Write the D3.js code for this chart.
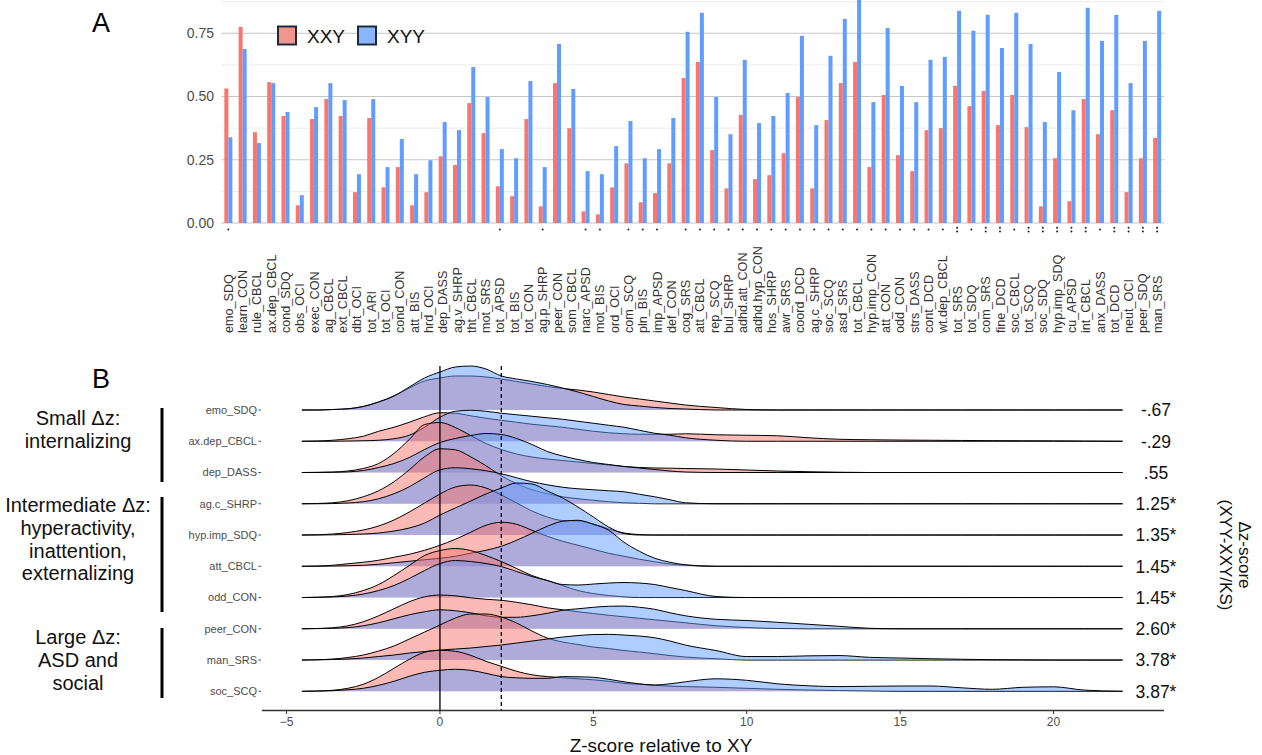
<!DOCTYPE html>
<html><head><meta charset="utf-8">
<script src="https://cdn.jsdelivr.net/npm/d3@7"></script>
<style>body{margin:0;background:#fff;} svg{display:block;font-family:"Liberation Sans",Arial,Helvetica,sans-serif;}</style>
</head><body><svg id="chart" width="1262" height="755"></svg>
<script>
// ---------- Panel A data ----------
const categories = ["emo_SDQ","learn_CON","rule_CBCL","ax.dep_CBCL","cond_SDQ","obs_OCI","exec_CON","ag_CBCL","ext_CBCL","dbt_OCI","tot_ARI","tot_OCI","cond_CON","att_BIS","hrd_OCI","dep_DASS","ag.v_SHRP","tht_CBCL","mot_SRS","tot_APSD","tot_BIS","tot_CON","ag.p_SHRP","peer_CON","som_CBCL","narc_APSD","mot_BIS","ord_OCI","com_SCQ","pln_BIS","imp_APSD","def_CON","cog_SRS","att_CBCL","rep_SCQ","bul_SHRP","adhd.att_CON","adhd.hyp_CON","hos_SHRP","awr_SRS","coord_DCD","ag.c_SHRP","soc_SCQ","asd_SRS","tot_CBCL","hyp.imp_CON","att_CON","odd_CON","strs_DASS","cont_DCD","wt.dep_CBCL","tot_SRS","tot_SDQ","com_SRS","fine_DCD","soc_CBCL","tot_SCQ","soc_SDQ","hyp.imp_SDQ","cu_APSD","int_CBCL","anx_DASS","tot_DCD","neut_OCI","peer_SDQ","man_SRS"];
const xxyValues = [0.532,0.775,0.359,0.557,0.423,0.070,0.411,0.490,0.423,0.122,0.415,0.141,0.221,0.070,0.122,0.264,0.229,0.474,0.355,0.145,0.106,0.411,0.066,0.553,0.375,0.046,0.034,0.141,0.236,0.082,0.118,0.236,0.573,0.637,0.288,0.137,0.427,0.173,0.189,0.276,0.498,0.137,0.407,0.553,0.637,0.221,0.506,0.268,0.205,0.367,0.375,0.542,0.462,0.522,0.387,0.506,0.379,0.066,0.256,0.086,0.490,0.351,0.446,0.122,0.256,0.336];
const xyyValues = [0.339,0.688,0.316,0.553,0.439,0.110,0.458,0.553,0.486,0.193,0.490,0.221,0.332,0.193,0.248,0.399,0.367,0.617,0.498,0.292,0.256,0.561,0.221,0.708,0.530,0.205,0.193,0.304,0.403,0.256,0.292,0.415,0.756,0.831,0.498,0.351,0.645,0.395,0.423,0.514,0.740,0.387,0.661,0.807,0.900,0.478,0.771,0.542,0.478,0.645,0.657,0.839,0.760,0.823,0.692,0.831,0.708,0.399,0.597,0.446,0.851,0.720,0.823,0.553,0.720,0.839];
const sigDots = [1,0,0,0,0,0,0,0,0,0,0,0,0,0,0,0,0,0,0,1,0,0,1,0,0,1,1,0,1,1,1,0,1,1,1,1,1,1,1,1,1,1,1,1,1,1,1,1,1,1,1,2,1,2,2,1,2,2,2,2,2,1,2,2,2,2];
const yTicksA = [0,0.25,0.5,0.75];
const yMinorA = [0.125,0.375,0.625,0.875];
const groups = ["XXY","XYY"];

// ---------- Panel B data ----------
const ridgeMeasures = ["emo_SDQ","ax.dep_CBCL","dep_DASS","ag.c_SHRP","hyp.imp_SDQ","att_CBCL","odd_CON","peer_CON","man_SRS","soc_SCQ"];
const deltaLabels = ["-.67","-.29",".55","1.25*","1.35*","1.45*","1.45*","2.60*","3.78*","3.87*"];
const zGrid = [-4.5,-4,-3.5,-3,-2.5,-2,-1.5,-1,-0.5,0,0.5,1,1.5,2,2.5,3,3.5,4,4.5,5,5.5,6,6.5,7,7.5,8,9,10,11,12,13,14,15,16,17,18,19,20,21,22.25];
const xxyDensities = [
 [0,0,.005,.012,.035,.08,.14,.22,.29,.32,.34,.34,.33,.31,.285,.26,.235,.215,.2,.18,.155,.13,.11,.09,.07,.05,.025,.005,0,0,0,0,0,0,0,0,0,0,0,0],
 [0,.003,.01,.025,.05,.10,.14,.19,.245,.285,.28,.255,.23,.21,.19,.17,.155,.14,.12,.10,.085,.075,.07,.07,.07,.075,.065,.06,.055,.035,.02,.015,.012,.01,.008,.006,.005,.004,.002,0],
 [0,.002,.005,.015,.04,.09,.19,.33,.48,.50,.45,.37,.29,.23,.185,.155,.135,.12,.105,.09,.075,.06,.05,.045,.043,.04,.035,.025,.015,.008,.003,0,0,0,0,0,0,0,0,0],
 [0,.003,.01,.03,.07,.13,.22,.34,.47,.55,.54,.47,.38,.28,.20,.14,.10,.07,.05,.035,.02,.01,.005,0,0,0,0,0,0,0,0,0,0,0,0,0,0,0,0,0],
 [0,.003,.01,.025,.05,.09,.15,.23,.32,.41,.48,.50,.47,.40,.32,.24,.18,.145,.14,.11,.06,.02,.005,0,0,0,0,0,0,0,0,0,0,0,0,0,0,0,0,0],
 [0,.003,.01,.025,.04,.06,.09,.12,.16,.21,.27,.34,.41,.44,.42,.36,.30,.25,.21,.17,.13,.10,.07,.045,.023,.01,0,0,0,0,0,0,0,0,0,0,0,0,0,0],
 [0,.003,.01,.03,.07,.13,.22,.32,.42,.47,.49,.47,.42,.36,.29,.22,.17,.12,.07,.04,.02,.007,0,0,0,0,0,0,0,0,0,0,0,0,0,0,0,0,0,0],
 [0,.003,.01,.03,.07,.13,.20,.27,.32,.337,.33,.31,.295,.285,.265,.24,.21,.19,.17,.153,.135,.12,.105,.09,.075,.06,.03,.013,.003,0,0,0,0,0,0,0,0,0,0,0],
 [0,.003,.01,.025,.05,.09,.14,.21,.28,.35,.42,.46,.46,.43,.37,.29,.22,.18,.155,.13,.115,.095,.08,.063,.045,.03,.013,0,0,0,0,0,0,0,0,0,0,0,0,0],
 [0,.003,.01,.03,.07,.14,.23,.32,.39,.41,.40,.36,.30,.25,.20,.165,.147,.135,.125,.115,.10,.08,.07,.06,.052,.047,.04,.03,.02,.013,.008,.004,0,0,0,0,0,0,0,0]
];
const xyyDensities = [
 [0,0,.005,.012,.035,.08,.14,.23,.32,.38,.43,.44,.41,.34,.31,.285,.255,.22,.18,.135,.09,.055,.04,.025,.015,.01,0,0,0,0,0,0,0,0,0,0,0,0,0,0],
 [0,0,0,.002,.005,.01,.025,.06,.14,.24,.30,.31,.30,.28,.265,.25,.235,.22,.20,.18,.16,.14,.11,.08,.06,.035,.01,0,0,0,0,0,0,0,0,0,0,0,0,0],
 [0,0,.002,.006,.02,.05,.09,.15,.23,.30,.34,.37,.39,.38,.34,.28,.21,.165,.13,.10,.08,.06,.045,.03,.015,.005,0,0,0,0,0,0,0,0,0,0,0,0,0,0],
 [0,0,.002,.008,.02,.05,.10,.17,.26,.34,.36,.35,.33,.30,.26,.22,.19,.165,.15,.14,.13,.12,.095,.07,.04,.01,0,0,0,0,0,0,0,0,0,0,0,0,0,0],
 [0,0,.002,.005,.01,.02,.04,.07,.12,.20,.27,.34,.41,.47,.52,.51,.44,.37,.28,.18,.08,.015,0,0,0,0,0,0,0,0,0,0,0,0,0,0,0,0,0,0],
 [0,0,.002,.005,.01,.02,.035,.05,.065,.08,.10,.13,.16,.20,.26,.33,.40,.45,.46,.42,.36,.24,.15,.08,.04,.015,0,0,0,0,0,0,0,0,0,0,0,0,0,0],
 [0,.002,.006,.015,.035,.07,.12,.19,.27,.34,.37,.36,.34,.31,.26,.21,.17,.13,.125,.135,.145,.15,.145,.13,.10,.07,.01,0,0,0,0,0,0,0,0,0,0,0,0,0],
 [0,.002,.005,.012,.03,.06,.10,.14,.17,.19,.18,.16,.13,.115,.115,.13,.155,.185,.20,.215,.225,.227,.215,.195,.16,.13,.095,.083,.065,.045,.025,.005,0,0,0,0,0,0,0,0],
 [0,.002,.005,.01,.02,.035,.05,.07,.085,.10,.11,.12,.135,.15,.17,.19,.21,.23,.245,.255,.257,.25,.24,.223,.19,.15,.095,.035,.035,.042,.045,.027,.02,.013,.008,.004,.002,0,0,0],
 [0,.002,.006,.015,.03,.06,.10,.15,.19,.21,.22,.21,.18,.147,.135,.13,.13,.147,.145,.14,.12,.095,.075,.063,.075,.095,.125,.11,.075,.055,.047,.05,.053,.053,.035,.02,.04,.045,.012,0]
];
const xTicksB = [-5,0,5,10,15,20];
const groupLabels = [
  ["Small \u0394z:","internalizing"],
  ["Intermediate \u0394z:","hyperactivity,","inattention,","externalizing"],
  ["Large \u0394z:","ASD and","social"]
];

const COL = {XXY:"#F8766D", XYY:"#619CFF"};
const svg = d3.select("#chart");

// ================= PANEL A =================
const xA = d3.scaleBand().domain(categories).range([221.2,1164.3]).paddingInner(0.44).paddingOuter(0.22);
const xSub = d3.scaleBand().domain(groups).range([0,xA.bandwidth()]);
const yA = d3.scaleLinear().domain([0,0.75]).range([223,33.3]);
const gA = svg.append("g");
gA.selectAll("line.minor").data(yMinorA).join("line")
  .attr("x1",221.2).attr("x2",1164.3).attr("y1",d=>yA(d)).attr("y2",d=>yA(d))
  .attr("stroke","#ebebeb").attr("stroke-width",1);
gA.selectAll("line.major").data(yTicksA).join("line")
  .attr("x1",221.2).attr("x2",1164.3).attr("y1",d=>yA(d)).attr("y2",d=>yA(d))
  .attr("stroke","#c6c6c6").attr("stroke-width",1.1);
gA.selectAll("text.ytick").data(yTicksA).join("text")
  .attr("x",214).attr("y",d=>yA(d)).attr("dy","0.35em").attr("text-anchor","end")
  .attr("font-size",14).attr("fill","#4d4d4d").text(d=>d3.format(".2f")(d));

const barData = [];
categories.forEach((c,i)=>{ barData.push({c,g:"XXY",v:xxyValues[i]}); barData.push({c,g:"XYY",v:xyyValues[i]}); });
gA.selectAll("rect.bar").data(barData).join("rect")
  .attr("x",d=>xA(d.c)+xSub(d.g)).attr("width",xSub.bandwidth())
  .attr("y",d=>yA(d.v)).attr("height",d=>yA(0)-yA(d.v)).attr("fill",d=>COL[d.g]);

const dotData = [];
categories.forEach((c,i)=>{ const n=sigDots[i]; if(n===1) dotData.push({c,y:229.5}); if(n===2){dotData.push({c,y:227.8});dotData.push({c,y:231.4});} });
gA.selectAll("circle.sig").data(dotData).join("circle")
  .attr("cx",d=>xA(d.c)+xA.bandwidth()/2).attr("cy",d=>d.y).attr("r",1).attr("fill","#222");

gA.selectAll("text.xlab").data(categories).join("text")
  .attr("transform",d=>`translate(${xA(d)+xA.bandwidth()/2},333) rotate(-90)`)
  .attr("dy","0.36em").attr("text-anchor","start").attr("font-size",12.6).attr("fill","#333").text(d=>d);

const leg = gA.append("g");
groups.forEach((g,i)=>{
  const x0 = [277,357][i];
  leg.append("rect").attr("x",x0+1).attr("y",26.5).attr("width",18).attr("height",18)
    .attr("fill",g==="XXY"?"#F0968D":"#8AB5FF").attr("stroke","#1d2b38").attr("stroke-width",2);
  leg.append("text").attr("x",x0+30).attr("y",36).attr("dy","0.36em").attr("font-size",19).attr("fill","#111").text(g);
});
svg.append("text").attr("x",101).attr("y",22).attr("dy","0.36em").attr("text-anchor","middle").attr("font-size",27).text("A");
svg.append("text").attr("x",101).attr("y",378).attr("dy","0.36em").attr("text-anchor","middle").attr("font-size",27).text("B");

// ================= PANEL B =================
const xB = d3.scaleLinear().domain([-5.8,23.6]).range([262,1164]);
const yRow = d3.scalePoint().domain(ridgeMeasures).range([410,691.3]);
const hB = d3.scaleLinear().domain([0,1]).range([0,100]);
const gB = svg.append("g");
ridgeMeasures.forEach((m,ri)=>{
  const base = yRow(m);
  [["XXY",xxyDensities[ri]],["XYY",xyyDensities[ri]]].forEach(([g,arr])=>{
    const pts = zGrid.map((z,k)=>({z,h:arr[k]}));
    const area = d3.area().x(d=>xB(d.z)).y0(base).y1(d=>base-hB(d.h)).curve(d3.curveMonotoneX);
    const line = d3.line().x(d=>xB(d.z)).y(d=>base-hB(d.h)).curve(d3.curveMonotoneX);
    gB.append("path").datum(pts).attr("d",area).attr("fill",COL[g]).attr("fill-opacity",0.5);
    gB.append("path").datum(pts).attr("d",line).attr("fill","none").attr("stroke","#000").attr("stroke-width",1);
  });
});
gB.append("line").attr("x1",xB(0)).attr("x2",xB(0)).attr("y1",366).attr("y2",710).attr("stroke","#000").attr("stroke-width",1.3);
gB.append("line").attr("x1",xB(2)).attr("x2",xB(2)).attr("y1",366).attr("y2",710).attr("stroke","#000").attr("stroke-width",1.3).attr("stroke-dasharray","4,3");
gB.selectAll("text.rlab").data(ridgeMeasures).join("text")
  .attr("x",257).attr("y",d=>yRow(d)).attr("dy","0.35em").attr("text-anchor","end").attr("font-size",11).attr("fill","#4d4d4d").text(d=>d);
gB.selectAll("line.rtick").data(ridgeMeasures).join("line")
  .attr("x1",258.5).attr("x2",261).attr("y1",d=>yRow(d)).attr("y2",d=>yRow(d)).attr("stroke","#4d4d4d");
gB.selectAll("text.dl").data(ridgeMeasures).join("text")
  .attr("x",1156).attr("y",d=>yRow(d)).attr("dy","0.36em").attr("text-anchor","middle").attr("font-size",17.5).attr("fill","#111")
  .text((d,i)=>deltaLabels[i]);
gB.append("line").attr("x1",262).attr("x2",1164).attr("y1",710.5).attr("y2",710.5).attr("stroke","#333").attr("stroke-width",1.4);
gB.selectAll("line.xt").data(xTicksB).join("line").attr("x1",d=>xB(d)).attr("x2",d=>xB(d)).attr("y1",710.5).attr("y2",714).attr("stroke","#333");
gB.selectAll("text.xt").data(xTicksB).join("text").attr("x",d=>xB(d)).attr("y",722).attr("dy","0.36em").attr("text-anchor","middle")
  .attr("font-size",12).attr("fill","#4d4d4d").text(d=>d<0?"\u2212"+Math.abs(d):d);
gB.append("text").attr("x",661).attr("y",745).attr("dy","0.36em").attr("text-anchor","middle").attr("font-size",19).attr("fill","#111").text("Z-score relative to XY");
const rt = gB.append("text").attr("transform","translate(1236,555) rotate(90)").attr("text-anchor","middle").attr("font-size",17).attr("fill","#111");
rt.append("tspan").attr("x",0).attr("dy","-0.2em").text("\u0394z-score");
rt.append("tspan").attr("x",0).attr("dy","1.15em").text("(XYY-XXY/KS)");
const groupCenters = [429, 539, 660];
groupLabels.forEach((lines,gi)=>{
  const n = lines.length, lh = 22.8;
  const t = svg.append("text").attr("text-anchor","middle").attr("font-size",20).attr("fill","#111");
  lines.forEach((s,k)=>t.append("tspan").attr("x",78).attr("y",groupCenters[gi]+(k-(n-1)/2)*lh).attr("dy","0.36em").text(s));
});
const barSpans = [[408,482],[497,612],[628,698]];
svg.selectAll("rect.gbar").data(barSpans).join("rect").attr("x",160.5).attr("width",3).attr("y",d=>d[0]).attr("height",d=>d[1]-d[0]).attr("fill","#000");
</script></body></html>
